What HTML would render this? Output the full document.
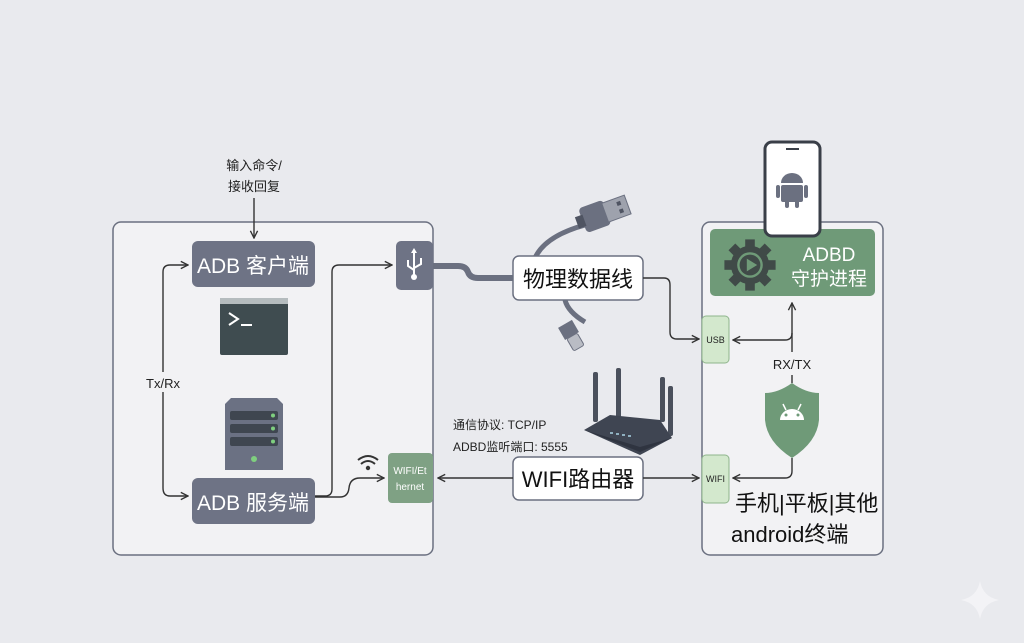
<!DOCTYPE html>
<html><head><meta charset="utf-8"><style>
html,body{margin:0;padding:0;background:#e9eaee;}
svg{display:block;font-family:"Liberation Sans","Noto Sans CJK SC",sans-serif;}
</style></head><body>
<svg width="1024" height="643" viewBox="0 0 1024 643" xmlns="http://www.w3.org/2000/svg">
<defs>
<marker id="ar" viewBox="0 0 10 10" refX="9" refY="5" markerWidth="9" markerHeight="9" orient="auto-start-reverse" markerUnits="userSpaceOnUse">
<path d="M1,1 L9,5 L1,9" fill="none" stroke="#333" stroke-width="1.5"/></marker>
</defs>
<rect width="1024" height="643" fill="#e9eaee"/>
<rect x="113" y="222" width="320" height="333" rx="8" fill="#f2f2f4" stroke="#6b7080" stroke-width="1.5"/>
<rect x="702" y="222" width="181" height="333" rx="8" fill="#f2f2f4" stroke="#6b7080" stroke-width="1.5"/>

<text x="254" y="170" font-size="13" text-anchor="middle" fill="#222">输入命令/</text>
<text x="254" y="191" font-size="13" text-anchor="middle" fill="#222">接收回复</text>
<line x1="254" y1="198" x2="254" y2="238" stroke="#333" stroke-width="1.4" marker-end="url(#ar)"/>

<rect x="192" y="241" width="123" height="46" rx="6" fill="#6e7385"/>
<text x="253" y="273" font-size="21" text-anchor="middle" fill="#fff">ADB 客户端</text>
<rect x="220" y="298" width="68" height="57" rx="2" fill="#3f4c50"/>
<rect x="220" y="298" width="68" height="6" fill="#b5bcbe"/>
<path d="M229,313 L238,319 L229,325" fill="none" stroke="#fff" stroke-width="2"/>
<line x1="241" y1="325" x2="252" y2="325" stroke="#fff" stroke-width="2"/>
<path d="M231,398 L277,398 L283,404 L283,470 L225,470 L225,404 Z" fill="#6b7183"/>
<rect x="230" y="411" width="48" height="9" rx="2" fill="#3f4650"/>
<rect x="230" y="424" width="48" height="9" rx="2" fill="#3f4650"/>
<rect x="230" y="437" width="48" height="9" rx="2" fill="#3f4650"/>
<circle cx="273" cy="415.5" r="2" fill="#7fcf7f"/><circle cx="273" cy="428.5" r="2" fill="#7fcf7f"/><circle cx="273" cy="441.5" r="2" fill="#7fcf7f"/>
<circle cx="254" cy="459" r="3" fill="#7fcf7f"/>
<rect x="192" y="478" width="123" height="46" rx="6" fill="#6e7385"/>
<text x="253" y="510" font-size="21" text-anchor="middle" fill="#fff">ADB 服务端</text>

<path d="M188,265 L170,265 Q163,265 163,272 L163,372" fill="none" stroke="#333" stroke-width="1.4" marker-start="url(#ar)"/>
<path d="M163,392 L163,488 Q163,496 170,496 L188,496" fill="none" stroke="#333" stroke-width="1.4" marker-end="url(#ar)"/>
<text x="163" y="388" font-size="13" text-anchor="middle" fill="#222">Tx/Rx</text>

<rect x="396" y="241" width="37" height="49" rx="5" fill="#6e7385"/>
<g stroke="#fff" stroke-width="2" fill="none">
<line x1="414" y1="251" x2="414" y2="276"/>
<path d="M408,260 L408,266 L414,270"/><path d="M421,258 L421,264 L414,268"/></g>
<circle cx="414" cy="277" r="3" fill="#fff"/><path d="M411,253 L414,248 L417,253 Z" fill="#fff"/>
<path d="M315,496 L325,496 Q332,496 332,489 L332,272 Q332,265 339,265 L392,265" fill="none" stroke="#333" stroke-width="1.4" marker-end="url(#ar)"/>
<path d="M315,497 L340,497 Q348,497 349,488 Q350,478 360,478 L384,478" fill="none" stroke="#333" stroke-width="1.4" marker-end="url(#ar)"/>
<g fill="none" stroke="#333" stroke-width="2">
<path d="M358,460 Q368,452 378,460"/><path d="M361,464 Q368,458 375,464"/></g>
<circle cx="368" cy="468" r="2.2" fill="#333"/>
<rect x="388" y="453" width="45" height="50" rx="4" fill="#7fa184"/>
<text x="410" y="474" font-size="10" text-anchor="middle" fill="#fff">WIFI/Et</text>
<text x="410" y="490" font-size="10" text-anchor="middle" fill="#fff">hernet</text>

<path d="M433,266 L458,266 Q466,266 468,272 Q470,278 478,278 L515,278" fill="none" stroke="#6b7080" stroke-width="6"/>
<path d="M535,258 Q545,236 585,225" fill="none" stroke="#6b7080" stroke-width="5"/>
<g transform="translate(607,212) rotate(-20)">
<rect x="-26" y="-13" width="26" height="26" rx="4" fill="#6b7080"/>
<rect x="-32" y="-6" width="8" height="12" fill="#4f5462"/>
<rect x="-2" y="-10" width="24" height="20" fill="#9ea2ad" stroke="#6b7080"/>
<rect x="12" y="-6" width="4" height="4" fill="#4f5462"/><rect x="12" y="2" width="4" height="4" fill="#4f5462"/>
</g>
<path d="M565,300 Q568,312 585,322" fill="none" stroke="#6b7080" stroke-width="5"/>
<g transform="translate(572,336) rotate(-30)">
<rect x="-8" y="-14" width="16" height="14" fill="#6b7080"/>
<rect x="-6" y="0" width="12" height="14" rx="2" fill="#b9bcc4" stroke="#6b7080"/>
</g>
<rect x="513" y="256" width="130" height="44" rx="6" fill="#fff" stroke="#6b7080" stroke-width="1.5"/>
<text x="578" y="287" font-size="22" text-anchor="middle" fill="#111">物理数据线</text>
<path d="M643,278 L664,278 Q670,278 670,285 L670,332 Q670,339 677,339 L699,339" fill="none" stroke="#333" stroke-width="1.4" marker-end="url(#ar)"/>

<g fill="#4a505c">
<rect x="593" y="372" width="5" height="50" rx="2"/><rect x="616" y="368" width="5" height="50" rx="2"/>
<rect x="660" y="377" width="5" height="45" rx="2"/><rect x="668" y="386" width="5" height="50" rx="2"/>
<path d="M584,430 L610,415 L660,420 L672,438 L640,455 Z" fill="#3f4552"/>
<path d="M584,430 L640,452 L672,438 L640,447 Z" fill="#2f3440"/>
</g>
<g fill="#8fb0c0"><rect x="610" y="432" width="3" height="2"/><rect x="616" y="433" width="3" height="2"/><rect x="622" y="434" width="3" height="2"/><rect x="628" y="435" width="3" height="2"/></g>
<text x="453" y="429" font-size="12" fill="#222">通信协议: TCP/IP</text>
<text x="453" y="451" font-size="12" fill="#222">ADBD监听端口: 5555</text>

<rect x="513" y="457" width="130" height="43" rx="6" fill="#fff" stroke="#6b7080" stroke-width="1.5"/>
<text x="578" y="487" font-size="22" text-anchor="middle" fill="#111">WIFI路由器</text>
<line x1="513" y1="478" x2="438" y2="478" stroke="#333" stroke-width="1.4" marker-end="url(#ar)"/>
<line x1="643" y1="478" x2="699" y2="478" stroke="#333" stroke-width="1.4" marker-end="url(#ar)"/>

<rect x="710" y="229" width="165" height="67" rx="5" fill="#6f9a78"/>
<g transform="translate(750,265) scale(0.8)">
<circle r="24" fill="#404a48"/>
<g fill="#404a48">
<rect x="-6" y="-32" width="12" height="12"/><rect x="-6" y="20" width="12" height="12"/>
<rect x="-32" y="-6" width="12" height="12"/><rect x="20" y="-6" width="12" height="12"/>
<rect x="-6" y="-32" width="12" height="12" transform="rotate(45)"/><rect x="-6" y="20" width="12" height="12" transform="rotate(45)"/>
<rect x="-32" y="-6" width="12" height="12" transform="rotate(45)"/><rect x="20" y="-6" width="12" height="12" transform="rotate(45)"/>
</g>
<circle r="16" fill="#6f9a78"/>
<circle r="13" fill="#404a48"/>
<path d="M-4,-8 L9,0 L-4,8 Z" fill="#6f9a78"/>
</g>
<text x="829" y="261" font-size="19" text-anchor="middle" fill="#fff">ADBD</text>
<text x="829" y="285" font-size="19" text-anchor="middle" fill="#fff">守护进程</text>

<rect x="765" y="142" width="55" height="94" rx="7" fill="#fff" stroke="#3a3f48" stroke-width="3"/>
<line x1="786" y1="149" x2="799" y2="149" stroke="#3a3f48" stroke-width="2"/>
<g fill="#6b7080">
<path d="M781,183 A11,10 0 0 1 803,183 Z"/>
<rect x="781" y="185" width="22" height="17" rx="2"/>
<rect x="776" y="185" width="4" height="13" rx="2"/><rect x="804" y="185" width="4" height="13" rx="2"/>
<rect x="785" y="200" width="4" height="8" rx="2"/><rect x="795" y="200" width="4" height="8" rx="2"/>
</g>

<rect x="702" y="316" width="27" height="47" rx="4" fill="#d3e8cd" stroke="#8fb58c" stroke-width="1"/>
<text x="715.5" y="343" font-size="9" text-anchor="middle" fill="#222">USB</text>
<rect x="702" y="455" width="27" height="48" rx="4" fill="#d3e8cd" stroke="#8fb58c" stroke-width="1"/>
<text x="715.5" y="482" font-size="9" text-anchor="middle" fill="#222">WIFI</text>

<path d="M792,352 L792,303" fill="none" stroke="#333" stroke-width="1.4" marker-end="url(#ar)"/>
<path d="M792,333 Q792,340 785,340 L733,340" fill="none" stroke="#333" stroke-width="1.4" marker-end="url(#ar)"/>
<text x="792" y="369" font-size="13" text-anchor="middle" fill="#222">RX/TX</text>
<line x1="792" y1="375" x2="792" y2="383" stroke="#333" stroke-width="1.4"/>
<path d="M792,383 Q806,393 819,393 L819,420 Q817,442 792,458 Q767,442 765,420 L765,393 Q778,393 792,383 Z" fill="#6f9a78"/>
<path d="M780,420 A12,11 0 0 1 804,420 Z" fill="#fff"/>
<line x1="783" y1="404" x2="786" y2="410" stroke="#fff" stroke-width="1.5"/><line x1="801" y1="404" x2="798" y2="410" stroke="#fff" stroke-width="1.5"/>
<circle cx="786" cy="415" r="1.5" fill="#6f9a78"/><circle cx="798" cy="415" r="1.5" fill="#6f9a78"/>
<path d="M792,458 L792,471 Q792,478 785,478 L733,478" fill="none" stroke="#333" stroke-width="1.4" marker-end="url(#ar)"/>

<text x="735" y="511" font-size="22" fill="#111">手机|平板|其他</text>
<text x="731" y="542" font-size="22" fill="#111">android终端</text>

<path d="M980,581 Q983,597 999,600 Q983,603 980,619 Q977,603 961,600 Q977,597 980,581 Z" fill="#f3f3f6"/>
</svg>
</body></html>
